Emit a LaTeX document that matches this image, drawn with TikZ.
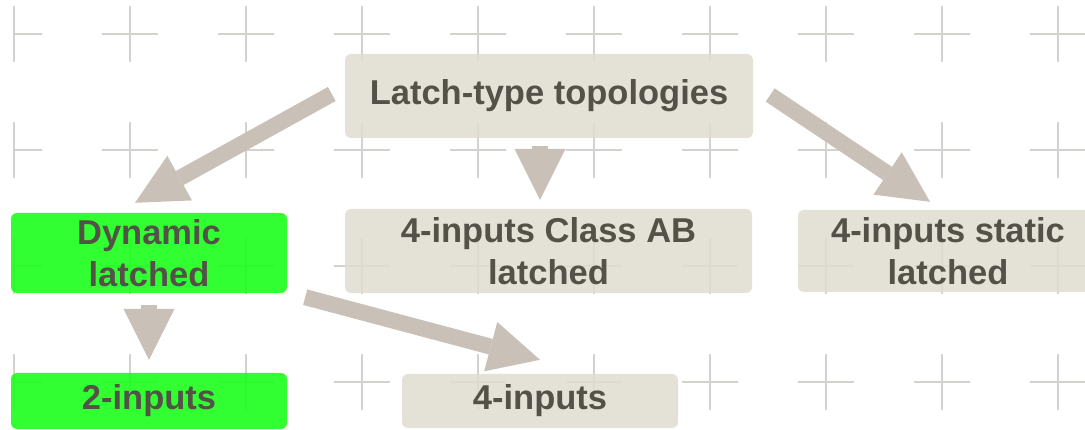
\documentclass[tikz,border=0pt]{standalone}
\usepackage{fontspec}
\setmainfont{Liberation Sans}
\usetikzlibrary{arrows.meta,calc}
\definecolor{gridc}{RGB}{212,210,205}
\definecolor{boxc}{RGB}{224,221,207}
\definecolor{greenc}{RGB}{15,255,15}
\definecolor{arrowc}{RGB}{201,192,183}
\definecolor{textc}{RGB}{84,82,72}
\begin{document}
\begin{tikzpicture}[x=1pt,y=-1pt,
  gridline/.style={draw=gridc, line width=1.2pt},
  box/.style={rounded corners=6pt, fill=boxc, fill opacity=0.85, text opacity=1,
    text=textc, font=\fontsize{34.5}{41.5}\selectfont\bfseries, align=center,
    inner sep=0pt},
  greenbox/.style={box, fill=greenc},
  blockarrow/.style={draw=arrowc, line width=16pt,
    -{Triangle[length=51pt, width=51pt, line width=0pt]}}]
  % canvas
  \useasboundingbox (0,0) rectangle (1085,430);
  \clip (0,0) rectangle (1085,430);
  \fill[white] (0,0) rectangle (1085,430);
  % background cross pattern
  \foreach \cy in {34,150,266,382} {
    \draw[gridline] (14,\cy) -- (42,\cy) (14,\cy-28) -- (14,\cy+28);
    \foreach \cx in {130,246,...,1058}
      \draw[gridline] (\cx-28,\cy) -- (\cx+28,\cy) (\cx,\cy-28) -- (\cx,\cy+28);
  }
  % boxes
  \node[box, minimum width=408pt, minimum height=84pt] (top) at (549,96) {Latch-type topologies};
  \node[greenbox, minimum width=276pt, minimum height=80pt] (dyn) at (149,253) {Dynamic\\latched};
  \node[box, minimum width=407pt, minimum height=84pt] (ab) at (548.5,251) {4-inputs Class AB\\latched};
  \node[box, minimum width=300pt, minimum height=82pt] (stat) at (948,251) {4-inputs static\\latched};
  \node[greenbox, minimum width=276pt, minimum height=56pt] (two) at (149,401) {2-inputs};
  \node[box, minimum width=276pt, minimum height=54pt] (four) at (540,401) {4-inputs};
  % connectors
  \draw[blockarrow] ($(top.west)+(-13,-2)$) -- ($(dyn.north)+(-14,-10)$);
  \draw[blockarrow] ($(top.south)+(-9,8)$) -- ($(ab.north)+(-8.5,-9)$);
  \draw[blockarrow] ($(top.east)+(17,-1)$) -- ($(stat.north)+(-18,-8)$);
  \draw[blockarrow] ($(dyn.south east)+(18,4)$) -- ($(four.north)+(0,-14)$);
  \draw[blockarrow] ($(dyn.south)+(0,12)$) -- ($(two.north)+(0,-13)$);
\end{tikzpicture}
\end{document}
